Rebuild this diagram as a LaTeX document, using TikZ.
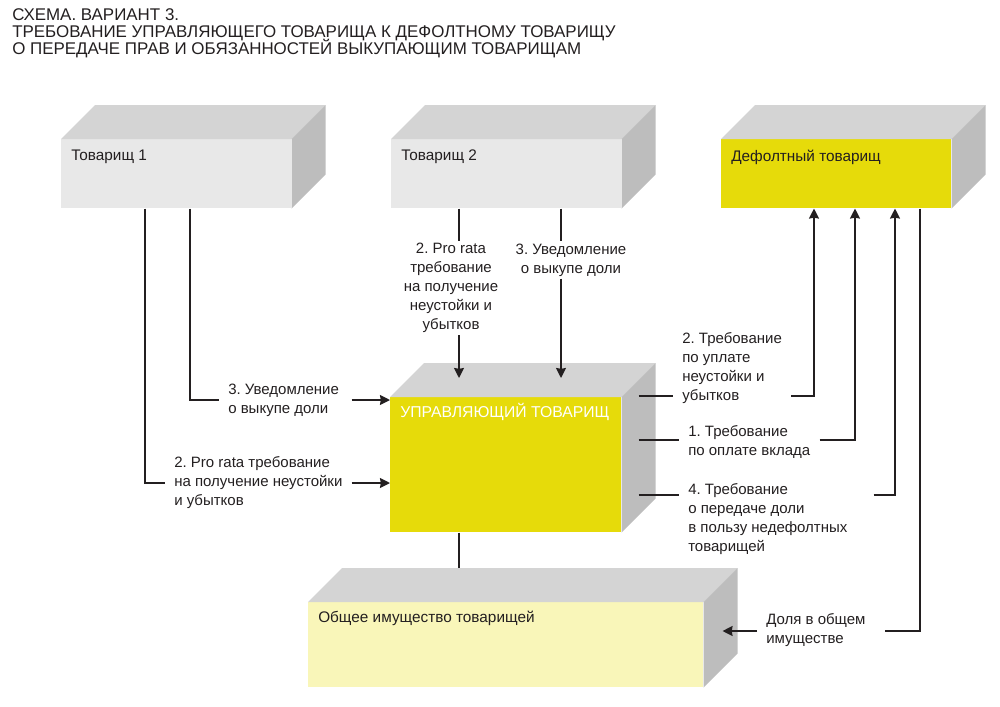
\documentclass[tikz,border=0pt]{standalone}
\usepackage{fontspec}
\setmainfont{Liberation Sans}
\usepackage{tikz}
\usetikzlibrary{calc, positioning, arrows.meta}
\frenchspacing

\definecolor{facegray}{HTML}{E8E8E8}
\definecolor{topgray}{HTML}{D4D4D4}
\definecolor{sidegray}{HTML}{BDBDBD}
\definecolor{mgryellow}{HTML}{E6DB0A}
\definecolor{paleyellow}{HTML}{F9F6B9}
\definecolor{ink}{HTML}{231F20}

\begin{document}
\begin{tikzpicture}[x = 0.75pt, y = -0.75pt,
		front/.style = {inner sep = 0pt, anchor = north west, minimum width = 172.5pt, minimum height = 51.75pt},
		boxtext/.style = {inner sep = 0pt, anchor = west, text = ink, font = \fontsize{11.5}{14}\selectfont},
		lbl/.style = {inner xsep = 6.75pt, inner ysep = 1.5pt, align = left, text = ink, font = \fontsize{11.25}{14.25}\selectfont},
		conn/.style = {draw = ink, line width = 1.2pt},
		> = {Stealth[length = 7.5pt, width = 7.5pt, inset = 0.6pt]}]
					\def\dd{34}

					\useasboundingbox (0,0) rectangle (1000,707);

					\node [anchor = north west, inner sep = 0pt, align = left, text = ink, font = {\fontsize{12.7}{12.75}\selectfont\lineskiplimit=-6pt\relax}] (title) at (12,8)
						{СХЕМА. ВАРИАНТ 3.\\ТРЕБОВАНИЕ УПРАВЛЯЮЩЕГО ТОВАРИЩА К ДЕФОЛТНОМУ ТОВАРИЩУ\\О ПЕРЕДАЧЕ ПРАВ И ОБЯЗАННОСТЕЙ ВЫКУПАЮЩИМ ТОВАРИЩАМ};

					% boxes
					\begin{scope}
						\node [front, fill = facegray] (t1) at (61,139) {};
						\node [front, fill = facegray] (t2) at (391,139) {};
						\node [front, fill = mgryellow] (def) at (721,139) {};
						\node [front, fill = mgryellow, minimum width = 173.25pt, minimum height = 101.25pt] (mgr) at (390,397) {};
						\node [front, fill = paleyellow, minimum width = 296.25pt, minimum height = 63.75pt] (prop) at (308,602) {};

						\foreach \b in {t1, t2, def, mgr, prop} {
							\fill [topgray] (\b.north west) -- ++(\dd,-\dd) -- ($(\b.north east) + (\dd,-\dd)$) -- (\b.north east) -- cycle;
							\fill [sidegray] (\b.north east) -- ++(\dd,-\dd) -- ($(\b.south east) + (\dd,-\dd)$) -- (\b.south east) -- cycle;
						}

						\node [boxtext] (t1txt) at ($(t1.north west) + (10,18)$) {Товарищ 1};
						\node [boxtext] (t2txt) at ($(t2.north west) + (10,18)$) {Товарищ 2};
						\node [boxtext] (deftxt) at ($(def.north west) + (10,18)$) {Дефолтный товарищ};
						\node [boxtext, text = white, font = \fontsize{11.8}{14}\selectfont] (mgrtxt) at ($(mgr.north west) + (10,15)$) {УПРАВЛЯЮЩИЙ ТОВАРИЩ};
						\node [boxtext] (proptxt) at ($(prop.north west) + (10,16)$) {Общее имущество товарищей};
					\end{scope}

					% from Товарищ 1
					\begin{scope}
						\coordinate (a1) at ($(t1.south west) + (84,0)$);
						\coordinate (a2) at ($(t1.south west) + (129,0)$);
						\node [lbl, anchor = west] (lab13) at (219,400) {3. Уведомление\\о выкупе доли};
						\node [lbl, anchor = west] (lab12) at (165,483) {2. Pro rata требование\\на получение неустойки\\и убытков};
						\draw [conn] (a2) |- (lab13.west);
						\draw [conn] (a1) |- (lab12.west);
						\draw [conn, ->] (lab13.east -| lab12.east) -- (lab13.east -| mgr.west);
						\draw [conn, ->] (lab12.east) -- (lab12.east -| mgr.west);
					\end{scope}

					% from Товарищ 2
					\begin{scope}
						\coordinate (b1) at ($(t2.south west) + (68,0)$);
						\coordinate (b2) at ($(t2.south west) + (170,0)$);
						\node [lbl, align = center] (lab22) at (451,288) {2. Pro rata\\требование\\на получение\\неустойки и\\убытков};
						\node [lbl, align = center] (lab23) at (571,260) {3. Уведомление\\о выкупе доли};
						\draw [conn] (b1) -- (b1 |- lab22.north);
						\draw [conn, ->] (b1 |- lab22.south) -- ($(b1 |- mgr.north) + (0,-19)$);
						\draw [conn] (b2) -- (b2 |- lab23.north);
						\draw [conn, ->] (b2 |- lab23.south) -- ($(b2 |- mgr.north) + (0,-19)$);
					\end{scope}

					% to the defaulting partner
					\begin{scope}
						\coordinate (s1) at ($(mgr.north east) + (17,-1)$);
						\coordinate (s2) at ($(mgr.north east) + (17,43)$);
						\coordinate (s3) at ($(mgr.north east) + (17,98)$);
						\coordinate (d1) at ($(def.south west) + (93,0)$);
						\coordinate (d2) at ($(def.south west) + (134,0)$);
						\coordinate (d3) at ($(def.south west) + (174,0)$);
						\coordinate (d4) at ($(def.south west) + (199,0)$);
						\coordinate (p1) at ($(prop.north east) + (19,29)$);

						\node [lbl, anchor = west] (lab32) at (673,368) {2. Требование\\по уплате\\неустойки и\\убытков};
						\node [lbl, anchor = west] (lab31) at (679,442) {1. Требование\\по оплате вклада};
						\node [lbl, anchor = west] (lab34) at (679,519) {4. Требование\\о передаче доли\\в пользу недефолтных\\товарищей};
						\node [lbl, anchor = west] (lab0) at (757,630) {Доля в общем\\имуществе};

						\draw [conn] (s1) -- (lab32.west |- s1);
						\draw [conn, ->] (lab32.east |- s1) -| (d1);
						\draw [conn] (s2) -- (lab31.west |- s2);
						\draw [conn, ->] (lab31.east |- s2) -| (d2);
						\draw [conn] (s3) -- (lab34.west |- s3);
						\draw [conn, ->] ($(lab34.east |- s3) + (17,0)$) -| (d3);
						\draw [conn] (d4) |- ($(lab0.east |- p1) + (10,0)$);
						\draw [conn, ->] (lab0.west |- p1) -- (p1);
					\end{scope}

					\coordinate (c5) at ($(mgr.south west) + (69,0)$);
					\draw [conn] (c5) -- ($(c5 |- prop.north) + (0,-\dd)$);
				\end{tikzpicture}
\end{document}
